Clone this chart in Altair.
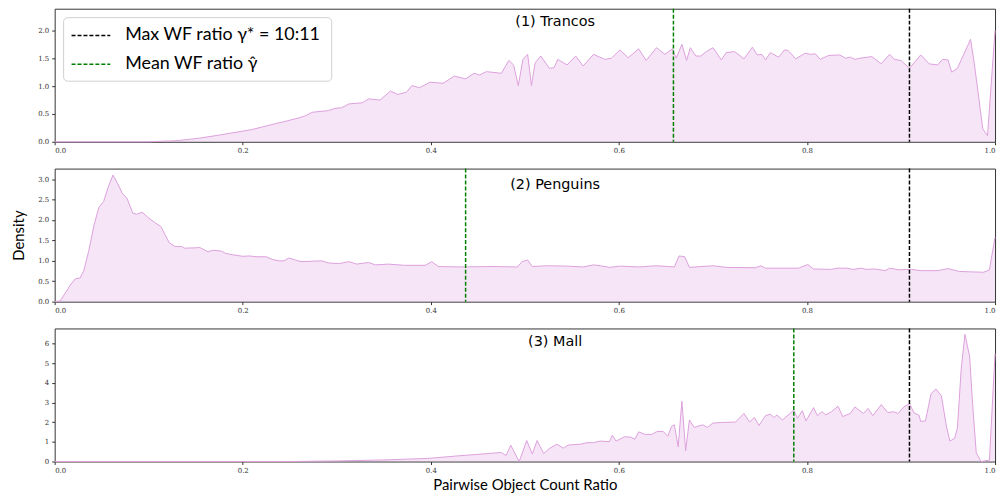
import altair as alt
import pandas as pd

# ---------------- data ----------------
panel_titles = ["(1) Trancos", "(2) Penguins", "(3) Mall"]

trancos_x = [0.00, 0.10, 0.13, 0.154, 0.175, 0.196, 0.21, 0.231, 0.246, 0.26, 0.267, 0.274,
             0.291, 0.298, 0.305, 0.313, 0.327, 0.334, 0.346, 0.357, 0.365, 0.374, 0.38,
             0.388, 0.399, 0.413, 0.425, 0.437, 0.446, 0.452, 0.459, 0.475, 0.483, 0.488,
             0.493, 0.498, 0.503, 0.507, 0.511, 0.517, 0.526, 0.531, 0.535, 0.545, 0.554,
             0.562, 0.573, 0.585, 0.592, 0.601, 0.61, 0.621, 0.629, 0.640, 0.649, 0.657,
             0.661, 0.667, 0.672, 0.676, 0.682, 0.687, 0.693, 0.70, 0.709, 0.714, 0.723,
             0.733, 0.742, 0.747, 0.752, 0.756, 0.761, 0.770, 0.776, 0.780, 0.788, 0.798,
             0.804, 0.809, 0.814, 0.823, 0.835, 0.841, 0.846, 0.851, 0.856, 0.869, 0.879,
             0.888, 0.893, 0.900, 0.909, 0.921, 0.930, 0.939, 0.944, 0.950, 0.954, 0.960,
             0.974, 0.978, 0.987, 0.992, 1.0]
trancos_y = [0.0, 0.0, 0.02, 0.065, 0.12, 0.18, 0.22, 0.31, 0.37, 0.43, 0.47, 0.53,
             0.56, 0.60, 0.61, 0.68, 0.70, 0.77, 0.75, 0.91, 0.85, 0.89, 1.01,
             0.97, 1.07, 1.05, 1.18, 1.13, 1.23, 1.20, 1.26, 1.23, 1.46, 1.38,
             1.01, 1.48, 1.57, 1.01, 1.42, 1.54, 1.32, 1.33, 1.48, 1.38, 1.54,
             1.36, 1.57, 1.48, 1.50, 1.65, 1.51, 1.67, 1.46, 1.69, 1.57, 1.67,
             1.50, 1.75, 1.46, 1.69, 1.54, 1.54, 1.62, 1.69, 1.47, 1.60, 1.62,
             1.49, 1.70, 1.56, 1.57, 1.47, 1.60, 1.52, 1.65, 1.64, 1.49, 1.59,
             1.57, 1.58, 1.48, 1.55, 1.56, 1.50, 1.52, 1.48, 1.50, 1.53, 1.40,
             1.57, 1.48, 1.46, 1.32, 1.56, 1.40, 1.38, 1.48, 1.47, 1.25, 1.32,
             1.84, 1.40, 0.23, 0.11, 2.0]

penguins_x = [0.0, 0.006, 0.017, 0.022, 0.027, 0.031, 0.036, 0.042, 0.047, 0.052, 0.057,
              0.062, 0.067, 0.072, 0.077, 0.083, 0.087, 0.093, 0.100, 0.107, 0.113, 0.118,
              0.122, 0.128, 0.135, 0.138, 0.151, 0.154, 0.163, 0.168, 0.177, 0.182, 0.189,
              0.200, 0.207, 0.214, 0.225, 0.232, 0.239, 0.244, 0.249, 0.256, 0.262, 0.284,
              0.291, 0.302, 0.313, 0.321, 0.334, 0.341, 0.355, 0.372, 0.394, 0.401, 0.408,
              0.432, 0.467, 0.492, 0.497, 0.503, 0.508, 0.524, 0.545, 0.562, 0.573, 0.58,
              0.59, 0.601, 0.622, 0.640, 0.659, 0.664, 0.670, 0.675, 0.700, 0.714, 0.745,
              0.751, 0.756, 0.791, 0.801, 0.807, 0.826, 0.832, 0.842, 0.849, 0.858, 0.863,
              0.872, 0.883, 0.888, 0.898, 0.911, 0.921, 0.939, 0.950, 0.962, 0.974, 0.988,
              0.994, 1.0]
penguins_y = [0.0, 0.02, 0.42, 0.56, 0.58, 0.76, 1.22, 1.89, 2.31, 2.45, 2.81,
              3.10, 2.89, 2.65, 2.53, 2.17, 2.14, 2.19, 2.05, 1.93, 1.84, 1.61,
              1.44, 1.35, 1.35, 1.31, 1.32, 1.33, 1.22, 1.26, 1.24, 1.18, 1.15,
              1.11, 1.12, 1.10, 1.10, 1.03, 1.00, 1.00, 1.07, 1.02, 0.98, 1.00,
              0.95, 0.93, 0.98, 0.92, 0.96, 0.90, 0.92, 0.89, 0.89, 0.98, 0.86,
              0.85, 0.86, 0.85, 0.98, 1.02, 0.86, 0.88, 0.87, 0.85, 0.90, 0.88,
              0.84, 0.87, 0.85, 0.88, 0.85, 1.12, 1.10, 0.84, 0.88, 0.84, 0.83,
              0.88, 0.82, 0.82, 0.91, 0.80, 0.79, 0.82, 0.82, 0.79, 0.82, 0.79,
              0.80, 0.76, 0.82, 0.78, 0.79, 0.76, 0.76, 0.81, 0.74, 0.73, 0.72,
              0.78, 1.58]

mall_x = [0.0, 0.25, 0.30, 0.35, 0.397, 0.432, 0.467, 0.475, 0.48, 0.485, 0.494, 0.502,
          0.508, 0.513, 0.520, 0.526, 0.534, 0.541, 0.546, 0.559, 0.566, 0.573, 0.58, 0.59,
          0.593, 0.597, 0.606, 0.613, 0.617, 0.621, 0.628, 0.635, 0.640, 0.647, 0.652,
          0.656, 0.659, 0.663, 0.667, 0.671, 0.675, 0.68, 0.689, 0.694, 0.700, 0.710,
          0.724, 0.733, 0.739, 0.744, 0.749, 0.756, 0.761, 0.765, 0.768, 0.774, 0.786,
          0.790, 0.795, 0.799, 0.807, 0.811, 0.816, 0.820, 0.826, 0.833, 0.838, 0.846,
          0.851, 0.860, 0.865, 0.870, 0.879, 0.886, 0.892, 0.897, 0.903, 0.909, 0.914,
          0.919, 0.921, 0.926, 0.932, 0.937, 0.943, 0.948, 0.952, 0.957, 0.960, 0.964,
          0.968, 0.973, 0.976, 0.980, 0.985, 0.994, 1.0]
mall_y = [0.0, 0.0, 0.03, 0.08, 0.16, 0.30, 0.43, 0.46, 0.30, 0.83, 0.0, 1.07,
          0.38, 1.07, 0.41, 0.66, 0.88, 0.68, 0.84, 0.88, 0.96, 0.96, 1.04, 1.01,
          1.34, 1.04, 1.26, 1.24, 1.13, 1.51, 1.38, 1.38, 1.52, 1.54, 1.29,
          1.79, 1.87, 0.75, 3.07, 0.55, 2.12, 1.74, 1.87, 1.74, 1.96, 1.99,
          2.01, 2.45, 2.01, 2.25, 1.84, 2.34, 2.41, 2.24, 2.37, 2.12, 2.62,
          2.20, 2.59, 2.07, 2.75, 2.34, 2.54, 2.37, 2.54, 2.82, 2.29, 2.45,
          2.78, 2.45, 2.70, 2.34, 2.90, 2.49, 2.54, 2.45, 2.78, 2.95, 2.47,
          2.37, 2.04, 2.07, 3.45, 3.70, 3.35, 1.87, 1.04, 1.18, 1.71, 4.69,
          6.48, 5.35, 3.03, 0.46, 0.0, 0.07, 5.5]

mean_wf_ratio = [0.658, 0.437, 0.786]
max_wf_ratio = 0.909  # 10:11
line_labels = ["Max WF ratio γ* = 10:11", "Mean WF ratio γ̂"]

y_max = [2.39, 3.26, 6.78]
y_ticks = [[0.0, 0.5, 1.0, 1.5, 2.0],
           [0.0, 0.5, 1.0, 1.5, 2.0, 2.5, 3.0],
           [0, 1, 2, 3, 4, 5, 6]]
y_formats = [".1f", ".1f", "d"]
x_ticks = [0.0, 0.2, 0.4, 0.6, 0.8, 1.0]

series_x = [trancos_x, penguins_x, mall_x]
series_y = [trancos_y, penguins_y, mall_y]

# ---------------- styling ----------------
W, H = 947, 134
CURVE = "#dda0dd"
TICK_FONT = "DejaVu Serif"
SANS = "Lato"


def panel(i):
    df = pd.DataFrame({"ratio": series_x[i], "density": series_y[i]})
    last = i == 2
    x_enc = alt.X(
        "ratio:Q",
        scale=alt.Scale(domain=[0, 1], nice=False, zero=False),
        axis=alt.Axis(values=x_ticks, format=".1f", grid=False, domain=False,
                      tickSize=3, labelPadding=2, labelFont=TICK_FONT, labelFontSize=7,
                      labelColor="#333", tickColor="#333",
                      title="Pairwise Object Count Ratio" if last else None,
                      titleFont=SANS, titleFontSize=15, titleFontWeight="normal",
                      titleColor="black", titlePadding=4),
    )
    y_enc = alt.Y(
        "density:Q",
        scale=alt.Scale(domain=[0, y_max[i]], nice=False, zero=True),
        axis=alt.Axis(values=y_ticks[i], format=y_formats[i], grid=False, domain=False,
                      tickSize=3, labelPadding=3, labelFont=TICK_FONT, labelFontSize=7,
                      labelColor="#333", tickColor="#333", labelOverlap=False,
                      title="Density" if i == 1 else None,
                      titleFont=SANS, titleFontSize=15, titleFontWeight="normal",
                      titleColor="black", titlePadding=11),
    )
    base = alt.Chart(df)
    area = base.mark_area(color=CURVE, opacity=0.27, interpolate="linear").encode(x=x_enc, y=y_enc)
    line = base.mark_line(color=CURVE, strokeWidth=1, interpolate="linear").encode(x=x_enc, y=y_enc)

    vdf = pd.DataFrame({"v": [mean_wf_ratio[i], max_wf_ratio], "kind": ["mean", "max"]})
    vlines = alt.Chart(vdf).mark_rule(strokeDash=[4, 2], strokeWidth=1.5).encode(
        x=alt.X("v:Q", scale=alt.Scale(domain=[0, 1], nice=False, zero=False)),
        color=alt.Color("kind:N", scale=alt.Scale(domain=["max", "mean"], range=["black", "green"]),
                        legend=None),
    )
    tdf = pd.DataFrame({"t": [panel_titles[i]]})
    title = alt.Chart(tdf).mark_text(font="DejaVu Sans", fontSize=14.5, color="black",
                                     align="center", baseline="middle").encode(
        text="t:N", x=alt.value(504), y=alt.value([13, 17, 14][i]))

    layers = [area, line, vlines, title]
    if i == 0:
        box = alt.Chart(pd.DataFrame({"b": [0]})).mark_rect(
            fill="white", stroke="#cccccc", strokeWidth=1, cornerRadius=4, opacity=0.9).encode(
            x=alt.value(9), x2=alt.value(279), y=alt.value(9), y2=alt.value(73))
        ldf0 = pd.DataFrame({"lab": [line_labels[0]]})
        ldf1 = pd.DataFrame({"lab": [line_labels[1]]})
        r1 = alt.Chart(ldf0).mark_rule(strokeDash=[4, 2], strokeWidth=1.5, color="black").encode(
            x=alt.value(17), x2=alt.value(56), y=alt.value(27))
        r2 = alt.Chart(ldf1).mark_rule(strokeDash=[4, 2], strokeWidth=1.5, color="green").encode(
            x=alt.value(17), x2=alt.value(56), y=alt.value(56))
        t1 = alt.Chart(ldf0).mark_text(font=SANS, fontSize=18, align="left", baseline="middle",
                                       color="black").encode(
            text="lab:N", x=alt.value(71), y=alt.value(27))
        t2 = alt.Chart(ldf1).mark_text(font=SANS, fontSize=18, align="left", baseline="middle",
                                       color="black").encode(
            text="lab:N", x=alt.value(71), y=alt.value(56))
        layers += [box, r1, r2, t1, t2]

    return alt.layer(*layers).properties(width=W, height=H)


chart = alt.vconcat(panel(0), panel(1), panel(2), spacing=12).configure_view(
    stroke="#333", strokeWidth=1
).properties(padding={"left": 3, "top": -3, "right": 2, "bottom": 0})

chart.save("out.html", embed_options={"renderer": "svg", "actions": False})
